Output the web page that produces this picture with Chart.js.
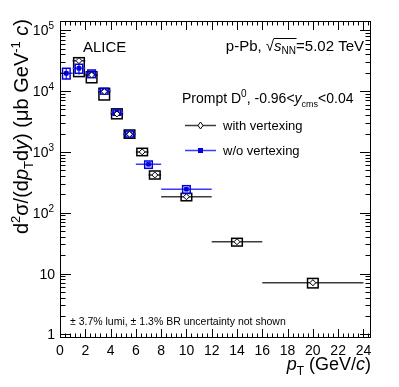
<!DOCTYPE html>
<html><head><meta charset="utf-8">
<script src="https://cdn.jsdelivr.net/npm/chart.js@4"></script>
<style>html,body{margin:0;padding:0;background:#fff}canvas{display:block}</style>
</head><body>
<canvas id="c" width="399" height="387"></canvas>
<script>
// ---- data: prompt D0 cross section, with vertexing
const ptWith     = [1.5, 2.5, 3.5, 4.5, 5.5, 6.5, 7.5, 10, 14, 20];
const binHWith   = [0.5, 0.5, 0.5, 0.5, 0.5, 0.5, 0.5, 2, 2, 4];
const yWith      = [31600, 18400, 9800, 4200, 1950, 1000, 417, 183, 33.3, 7.06];
const statWith   = [3000, 1500, 700, 300, 120, 60, 30, 15, 3, 0.8];
const sysHiWith  = [35400, 20800, 11100, 5100, 2290, 1146, 485, 208, 37.9, 8.3];
const sysLoWith  = [17300, 13700, 7140, 3500, 1675, 866, 358, 157, 28.3, 5.8];
// ---- w/o vertexing
const ptWo       = [0.5, 1.5, 2.5, 3.5, 4.5, 5.5, 7, 10];
const binHWo     = [0.5, 0.5, 0.5, 0.5, 0.5, 0.5, 1, 2];
const yWo        = [19600, 23700, 19600, 10200, 4480, 1970, 625, 243];
const statWo     = [4000, 5000, 2500, 900, 450, 150, 40, 15];
const sysHiWo    = [23700, 27600, 22200, 11100, 4900, 2200, 708, 278];
const sysLoWo    = [15800, 19600, 16600, 8900, 4000, 1750, 537, 208];
// ---- tick labels
const xTickVals  = [0,2,4,6,8,10,12,14,16,18,20,22,24];
const yTickVals  = [1,10,100,1000,10000,100000];
const yTickText  = [["1",""],["10",""],["10","2"],["10","3"],["10","4"],["10","5"]];

const FONT = '"Liberation Sans", Arial, Helvetica, sans-serif';
const BLUE = '#0000e0';
const BLUEL = '#3a3aff';

function fnt(sz, it){ return (it?'italic ':'') + sz + 'px ' + FONT; }
function rich(ctx, parts, x, y, align){
  let w = 0;
  parts.forEach(p=>{ ctx.font = fnt(p.s, p.it); p.w = ctx.measureText(p.t).width; w += p.w; });
  let cx = align==='right' ? x - w : x;
  ctx.textBaseline = 'alphabetic'; ctx.textAlign = 'left';
  parts.forEach(p=>{
    ctx.font = fnt(p.s, p.it);
    ctx.fillText(p.t, cx, y + (p.dy||0));
    if (p.ol){ ctx.save(); ctx.lineWidth=1; ctx.beginPath(); ctx.moveTo(cx-0.5, y+p.ol+0.5); ctx.lineTo(cx+p.w+0.5, y+p.ol+0.5); ctx.stroke(); ctx.restore(); }
    cx += p.w;
  });
  return w;
}

const deco = {
  id: 'deco',
  beforeDatasetsDraw(chart){
    const ctx = chart.ctx, xs = chart.scales.x, ys = chart.scales.y;
    const a = chart.chartArea;
    ctx.save();
    ctx.beginPath(); ctx.rect(a.left, a.top, a.right-a.left, a.bottom-a.top); ctx.clip();
    function series(pt, bh, yv, st, hi, lo, boxHW, barCol, boxCol){
      for (let i=0;i<pt.length;i++){
        const px = xs.getPixelForValue(pt[i]);
        const py = ys.getPixelForValue(yv[i]);
        ctx.strokeStyle = barCol; ctx.lineWidth = 1.5;
        ctx.beginPath();
        ctx.moveTo(xs.getPixelForValue(pt[i]-bh[i]), py); ctx.lineTo(xs.getPixelForValue(pt[i]+bh[i]), py);
        ctx.moveTo(px, ys.getPixelForValue(yv[i]+st[i])); ctx.lineTo(px, ys.getPixelForValue(yv[i]-st[i]));
        ctx.stroke();
        const x1 = xs.getPixelForValue(pt[i]-boxHW), x2 = xs.getPixelForValue(pt[i]+boxHW);
        const y1 = ys.getPixelForValue(hi[i]), y2 = ys.getPixelForValue(lo[i]);
        ctx.strokeStyle = boxCol; ctx.lineWidth = 1.5;
        ctx.strokeRect(x1, y1, x2-x1, y2-y1);
      }
    }
    series(ptWith, binHWith, yWith, statWith, sysHiWith, sysLoWith, 0.42, '#3c3c3c', '#000');
    series(ptWo, binHWo, yWo, statWo, sysHiWo, sysLoWo, 0.3, BLUEL, BLUE);
    ctx.restore();
  },
  afterDraw(chart){
    const ctx = chart.ctx, xs = chart.scales.x, ys = chart.scales.y;
    const a = chart.chartArea;
    ctx.save();
    ctx.fillStyle = '#000'; ctx.strokeStyle = '#000';
    ctx.lineWidth = 1;
    ctx.strokeRect(a.left+0.5, a.top+0.5, a.right-a.left-1, a.bottom-a.top-1);
    ctx.beginPath();
    for (let k=0;k<=61;k++){
      const v = k*0.4; if (v > xs.max) break;
      const px = Math.round(xs.getPixelForValue(v))+0.5;
      const len = (k%5===0) ? 9 : 4.5;
      ctx.moveTo(px, a.bottom); ctx.lineTo(px, a.bottom-len);
      ctx.moveTo(px, a.top); ctx.lineTo(px, a.top+len);
    }
    for (let d=-1; d<=5; d++){
      for (let m=1; m<=9; m++){
        const v = m*Math.pow(10,d);
        if (v < ys.min || v > ys.max) continue;
        const py = Math.round(ys.getPixelForValue(v))+0.5;
        const len = m===1 ? 11 : 5.5;
        ctx.moveTo(a.left, py); ctx.lineTo(a.left+len, py);
        ctx.moveTo(a.right, py); ctx.lineTo(a.right-len, py);
      }
    }
    ctx.stroke();
    ctx.font = fnt(14); ctx.textAlign='center'; ctx.textBaseline='alphabetic';
    xTickVals.forEach(v=>{ ctx.fillText(String(v), xs.getPixelForValue(v), 355); });
    yTickVals.forEach((v,i)=>{
      const py = ys.getPixelForValue(v);
      const t = yTickText[i];
      const parts=[{t:t[0], s:14}];
      if (t[1]) parts.push({t:t[1], s:10, dy:-6});
      rich(ctx, parts, t[1]?54:55, py+5, 'right');
    });
    rich(ctx, [{t:'p',s:18,it:true},{t:'T',s:12,dy:5},{t:' (GeV/',s:18},{t:'c',s:18,it:true},{t:')',s:18}], 371, 370, 'right');
    ctx.save();
    ctx.translate(28, 19); ctx.rotate(-Math.PI/2);
    rich(ctx, [{t:'d',s:20},{t:'2',s:13,dy:-8},{t:'σ/(d',s:20},{t:'p',s:20,it:true},{t:'T',s:13,dy:5},
               {t:'d',s:20},{t:'y',s:20,it:true},{t:') (μb GeV',s:20},{t:'-1',s:13,dy:-8},{t:' ',s:20},{t:'c',s:20,it:true},{t:')',s:20}], 0, 0, 'right');
    ctx.restore();
    ctx.font = fnt(15); ctx.textAlign='left'; ctx.fillText('ALICE', 83, 52);
    rich(ctx, [{t:'p-Pb, ',s:15},{t:'\u221A',s:15},{t:'s',s:15,it:true,ol:-13},{t:'NN',s:10,dy:3,ol:-13},{t:'=5.02 TeV',s:15}], 364, 51, 'right');
    rich(ctx, [{t:'Prompt D',s:14},{t:'0',s:10,dy:-6},{t:', -0.96<',s:14},{t:'y',s:14,it:true},{t:'cms',s:9,dy:4},{t:'<0.04',s:14}], 182, 103, 'left');
    ctx.lineWidth = 1.5;
    ctx.strokeStyle='#3c3c3c'; ctx.beginPath(); ctx.moveTo(185,125.5); ctx.lineTo(216,125.5); ctx.stroke();
    ctx.fillStyle='#fff'; ctx.strokeStyle='#000'; ctx.lineWidth=1;
    ctx.beginPath(); ctx.moveTo(200.5,122); ctx.lineTo(203,125.5); ctx.lineTo(200.5,129); ctx.lineTo(198,125.5); ctx.closePath(); ctx.fill(); ctx.stroke();
    ctx.lineWidth = 1.5; ctx.strokeStyle=BLUEL; ctx.beginPath(); ctx.moveTo(185,150.5); ctx.lineTo(216,150.5); ctx.stroke();
    ctx.fillStyle=BLUE; ctx.fillRect(198,148,5,5);
    ctx.fillStyle='#000'; ctx.font=fnt(13); ctx.textAlign='left';
    ctx.fillText('with vertexing', 223, 130);
    ctx.fillText('w/o vertexing', 223, 155);
    ctx.font=fnt(10.5); ctx.fillText('\u00B1 3.7% lumi, \u00B1 1.3% BR uncertainty not shown', 70, 325);
    ctx.restore();
  }
};

new Chart(document.getElementById('c').getContext('2d'), {
  type: 'scatter',
  data: { datasets: [
    { label:'with vertexing', data: ptWith.map((x,i)=>({x, y:yWith[i]})),
      pointStyle:'rectRot', pointRadius:3, backgroundColor:'#fff', borderColor:'#000', borderWidth:1 },
    { label:'w/o vertexing', data: ptWo.map((x,i)=>({x, y:yWo[i]})),
      pointStyle:'rect', pointRadius:2.6, backgroundColor:BLUE, borderColor:BLUE, borderWidth:1 }
  ]},
  options: {
    responsive:false, animation:false, devicePixelRatio:1,
    layout:{ padding:{ left:60, right:28, top:21, bottom:49 } },
    plugins:{ legend:{display:false}, tooltip:{enabled:false} },
    scales:{
      x:{ type:'linear', min:0, max:24.6, display:false },
      y:{ type:'logarithmic', min:0.87, max:1.42e5, display:false }
    }
  },
  plugins:[deco]
});
</script>
</body></html>
